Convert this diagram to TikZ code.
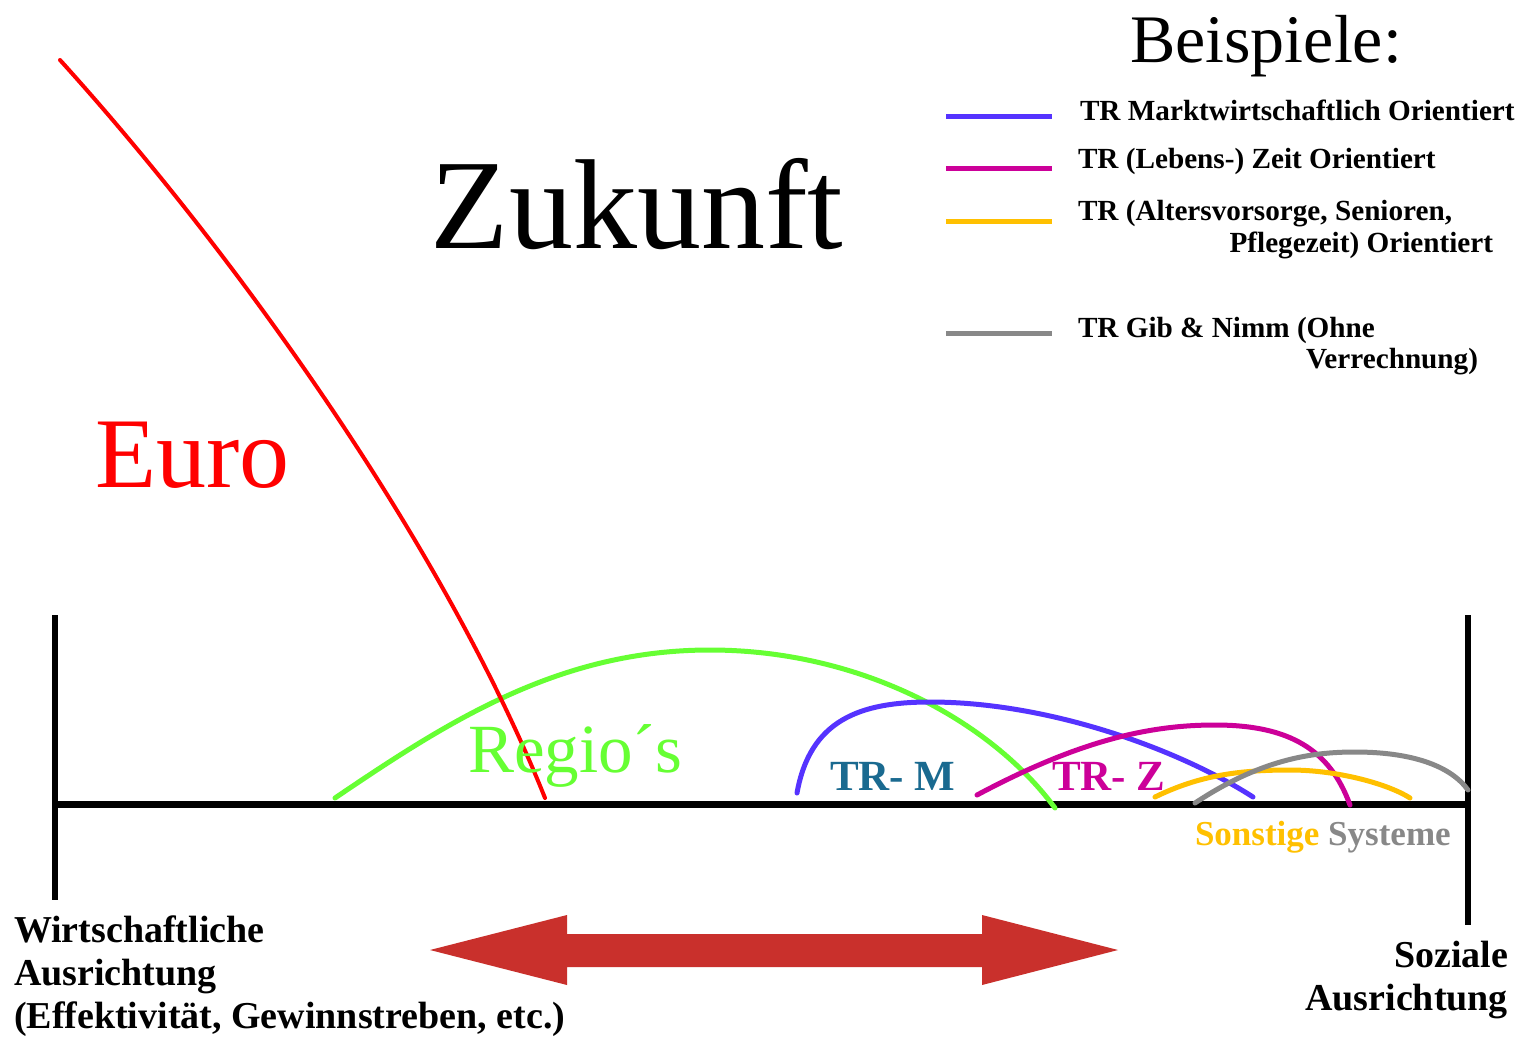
\documentclass[tikz,border=0pt]{standalone}
\usepackage{fontspec}
\setmainfont{Liberation Serif}
\definecolor{eurored}{HTML}{FF0000}
\definecolor{regiogreen}{HTML}{66FF33}
\definecolor{trmblue}{HTML}{5533FF}
\definecolor{trzmag}{HTML}{CC0099}
\definecolor{sonstyellow}{HTML}{FFC000}
\definecolor{sysgray}{HTML}{888888}
\definecolor{trmtext}{HTML}{1A6A90}
\definecolor{arrowred}{HTML}{C9302C}
\begin{document}
\begin{tikzpicture}[x=1pt,y=-1pt,
  lbl/.style={inner sep=0pt, outer sep=0pt},
  legtxt/.style={lbl, font=\fontsize{29.2}{32}\selectfont\bfseries},
  axtxt/.style={lbl, font=\fontsize{38}{43}\selectfont\bfseries},
  curve/.style={line width=5pt, line cap=round},
  legline/.style={line width=5pt}]
\useasboundingbox (0,0) rectangle (1528,1044);
\fill[white] (0,0) rectangle (1528,1044);

% axis
\coordinate (axL) at (55,804);
\coordinate (axR) at (1470,804);
\draw[line width=7pt] (axL) -- (axR);
\coordinate (vLt) at (55,615); \coordinate (vLb) at (55,900);
\coordinate (vRt) at (1468,615); \coordinate (vRb) at (1468,925);
\draw[line width=6pt] (vLt) -- (vLb);
\draw[line width=6pt] (vRt) -- (vRb);

% title texts
\node[lbl, font=\fontsize{68}{72}\selectfont, anchor=base] (beisp) at (1266,62) {Beispiele:};
\node[lbl, font=\fontsize{128}{130}\selectfont, anchor=base] (zuk) at (637,248) {Zukunft};
\node[lbl, font=\fontsize{100}{104}\selectfont, text=eurored, anchor=base west] (euro) at (95,487) {Euro};

% legend
\coordinate (l1a) at (946,116); \coordinate (l1b) at (1052,116);
\coordinate (l2a) at (946,168); \coordinate (l2b) at (1052,168);
\coordinate (l3a) at (946,221); \coordinate (l3b) at (1052,221);
\coordinate (l4a) at (946,333); \coordinate (l4b) at (1052,333);
\draw[legline, trmblue] (l1a) -- (l1b);
\draw[legline, trzmag] (l2a) -- (l2b);
\draw[legline, sonstyellow] (l3a) -- (l3b);
\draw[legline, sysgray] (l4a) -- (l4b);
\node[legtxt, anchor=base west] (t1) at (1080,120) {TR Marktwirtschaftlich Orientiert};
\node[legtxt, anchor=base west] (t2) at (1078,168) {TR (Lebens-) Zeit Orientiert};
\node[legtxt, anchor=base west] (t3) at (1078,220) {TR (Altersvorsorge, Senioren,};
\node[legtxt, anchor=base east] (t3b) at (1493,252) {Pflegezeit) Orientiert};
\node[legtxt, anchor=base west] (t4) at (1078,337) {TR Gib \& Nimm (Ohne};
\node[legtxt, anchor=base east] (t4b) at (1478,368) {Verrechnung)};

% curves
\draw[curve, regiogreen] (335,798) .. controls (450,720) and (560,650) .. (710,650)
  .. controls (860,650) and (990,720) .. (1055,808);
\draw[line width=4pt, eurored, line cap=round] (60,60) .. controls (250,270) and (450,560) .. (545,798);
\draw[curve, trmblue] (797,793) .. controls (810,720) and (860,702) .. (930,702)
  .. controls (1050,702) and (1180,750) .. (1253,797);
\draw[curve, trzmag] (977,795) .. controls (1080,740) and (1150,725) .. (1215,725)
  .. controls (1290,725) and (1330,750) .. (1350,805);
\draw[curve, sonstyellow] (1155,797) .. controls (1200,775) and (1240,770) .. (1290,770)
  .. controls (1340,770) and (1390,785) .. (1410,798);
\draw[curve, sysgray] (1195,803) .. controls (1260,760) and (1310,752) .. (1355,752)
  .. controls (1410,752) and (1450,765) .. (1468,790);

% curve labels
\node[lbl, font=\fontsize{69}{72}\selectfont, text=regiogreen, anchor=base west] (regio) at (468,772) {Regio´s};
\node[lbl, font=\fontsize{43}{46}\selectfont\bfseries, text=trmtext, anchor=base west] (trm) at (830,790) {TR- M};
\node[lbl, font=\fontsize{43}{46}\selectfont\bfseries, text=trzmag, anchor=base west] (trz) at (1052,790) {TR- Z};
\node[lbl, font=\fontsize{35}{38}\selectfont\bfseries, anchor=base west] (sonst) at (1195,845) {\textcolor{sonstyellow}{Sonstige} \textcolor{sysgray}{Systeme}};

% axis labels
\node[axtxt, anchor=base west] (w1) at (14,942) {Wirtschaftliche};
\node[axtxt, anchor=base west] (w2) at (14,985) {Ausrichtung};
\node[axtxt, anchor=base west] (w3) at (14,1028) {(Effektivität, Gewinnstreben, etc.)};
\node[axtxt, anchor=base east] (s1) at (1508,967) {Soziale};
\node[axtxt, anchor=base east] (s2) at (1508,1010) {Ausrichtung};

% double arrow
\fill[arrowred] (430,950) -- (567,915) -- (567,934) -- (982,934) -- (982,915) -- (1118,950)
  -- (982,985) -- (982,967) -- (567,967) -- (567,985) -- cycle;
\end{tikzpicture}
\end{document}
